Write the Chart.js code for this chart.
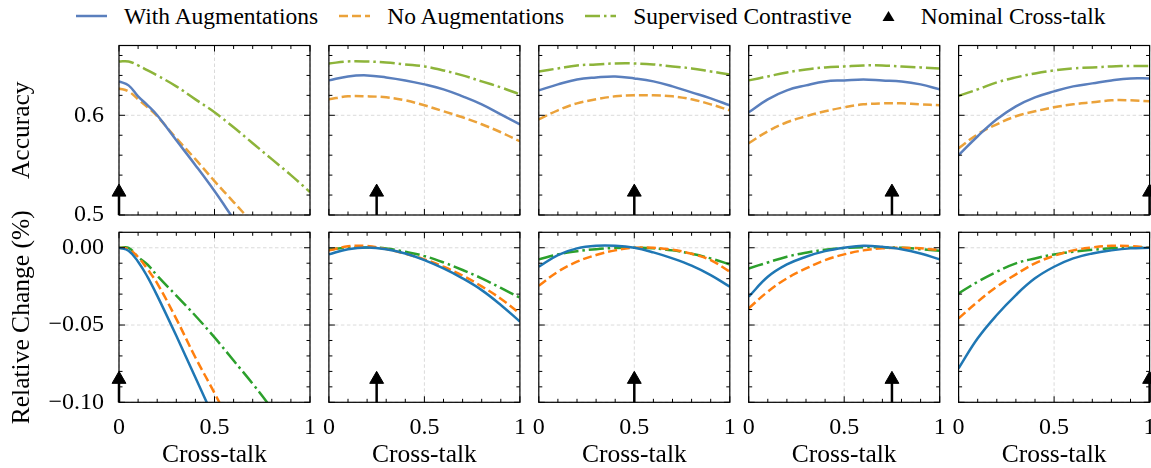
<!DOCTYPE html>
<html>
<head>
<meta charset="utf-8">
<script src="https://cdn.jsdelivr.net/npm/chart.js@4.4.1/dist/chart.umd.min.js"></script>
<style>
  body { margin: 0; width: 1151px; height: 468px; overflow: hidden; background: #fff; position: relative; font-family: "Liberation Serif", serif; }
  canvas { position: absolute; left: 0; top: 0; }
  #legend { position: absolute; left: 76px; top: 0; height: 32px; display: flex; align-items: center; font-size: 23.5px; color: #000; white-space: nowrap; }
  .item { display: flex; align-items: center; margin-right: 21px; }
  .item svg { margin-right: 17px; }
</style>
</head>
<body>
<div id="legend"></div>
<script>
// Eje x (cross-talk evaluado); la primera columna tiene puntos extra cerca de 0
const CROSS_TALK = [0, 0.1, 0.2, 0.3, 0.4, 0.5, 0.6, 0.7, 0.8, 0.9, 1];
const CROSS_TALK_COL1 = [0, 0.05, 0.1, 0.15, 0.2, 0.3, 0.4, 0.5, 0.6, 0.7, 0.8, 0.9, 1];
const NOMINAL = [0, 0.25, 0.5, 0.75, 1];

// Fila superior: accuracy (una fila por columna / nominal)
const ACC_AUG = [
  [0.634, 0.630, 0.619, 0.610, 0.600, 0.575, 0.550, 0.524, 0.496, null, null, null, null],
  [0.635, 0.639, 0.640, 0.638, 0.635, 0.631, 0.626, 0.619, 0.611, 0.601, 0.591],
  [0.625, 0.631, 0.636, 0.638, 0.639, 0.637, 0.634, 0.629, 0.623, 0.617, 0.610],
  [0.603, 0.616, 0.625, 0.630, 0.634, 0.635, 0.636, 0.635, 0.634, 0.631, 0.626],
  [0.560, 0.579, 0.596, 0.609, 0.618, 0.624, 0.629, 0.632, 0.635, 0.637, 0.637]
];
const ACC_NOAUG = [
  [0.627, 0.624, 0.616, 0.608, 0.599, 0.577, 0.556, 0.534, 0.513, 0.492, null, null, null],
  [0.616, 0.619, 0.619, 0.618, 0.615, 0.610, 0.604, 0.598, 0.591, 0.583, 0.574],
  [0.596, 0.605, 0.612, 0.616, 0.619, 0.620, 0.620, 0.619, 0.616, 0.611, 0.605],
  [0.572, 0.584, 0.593, 0.599, 0.604, 0.608, 0.611, 0.612, 0.612, 0.611, 0.610],
  [0.567, 0.581, 0.591, 0.599, 0.604, 0.608, 0.611, 0.613, 0.615, 0.615, 0.614]
];
const ACC_SUPCON = [
  [0.654, 0.654, 0.650, 0.645, 0.640, 0.629, 0.616, 0.603, 0.588, 0.572, 0.556, 0.540, 0.523],
  [0.652, 0.654, 0.654, 0.653, 0.651, 0.649, 0.645, 0.640, 0.634, 0.628, 0.621],
  [0.644, 0.647, 0.650, 0.651, 0.652, 0.652, 0.651, 0.649, 0.647, 0.644, 0.641],
  [0.635, 0.639, 0.643, 0.646, 0.648, 0.649, 0.650, 0.650, 0.649, 0.648, 0.647],
  [0.6195, 0.626, 0.633, 0.638, 0.642, 0.645, 0.647, 0.648, 0.649, 0.6495, 0.6495]
];

// Fila inferior: cambio relativo respecto al nominal
const REL_AUG = [
  [0, -0.002, -0.009, -0.019, -0.031, -0.057, -0.084, -0.111, null, null, null, null, null],
  [-0.0043, -0.0009, 0.0002, -0.0009, -0.0037, -0.008, -0.0134, -0.0198, -0.0274, -0.037, -0.0478],
  [-0.0123, -0.0047, -0.0004, 0.0013, 0.0013, 0, -0.003, -0.0069, -0.0116, -0.0177, -0.0252],
  [-0.0317, -0.0188, -0.0108, -0.0058, -0.0022, 0, 0.0013, 0.0006, -0.0009, -0.0037, -0.0075],
  [-0.078, -0.0586, -0.0435, -0.0306, -0.0198, -0.0123, -0.0069, -0.0037, -0.0017, -0.0004, 0]
];
const REL_NOAUG = [
  [0, -0.001, -0.006, -0.014, -0.023, -0.046, -0.071, -0.094, -0.118, null, null, null, null],
  [-0.0017, 0.0009, 0.0011, -0.0009, -0.0039, -0.0075, -0.0123, -0.018, -0.025, -0.033, -0.0425],
  [-0.0246, -0.0155, -0.009, -0.0047, -0.0017, 0, 0, -0.0013, -0.0039, -0.008, -0.0155],
  [-0.0392, -0.0284, -0.0198, -0.0134, -0.008, -0.0043, -0.0017, -0.0004, 0, -0.0004, -0.0015],
  [-0.0457, -0.0349, -0.0252, -0.0172, -0.0101, -0.0052, -0.0017, 0.0002, 0.0013, 0.0011, 0]
];
const REL_SUPCON = [
  [0, 0, -0.006, -0.011, -0.018, -0.031, -0.044, -0.058, -0.073, -0.088, -0.104, null, null],
  [-0.0011, 0, 0.0002, -0.0004, -0.0026, -0.0054, -0.0095, -0.0144, -0.0198, -0.026, -0.0323],
  [-0.0075, -0.0043, -0.0022, -0.0009, -0.0002, 0, -0.0004, -0.0017, -0.0039, -0.0069, -0.0108],
  [-0.0134, -0.0095, -0.0058, -0.0032, -0.0013, -0.0002, 0.0004, 0.0002, 0, -0.0009, -0.0019],
  [-0.0295, -0.022, -0.0155, -0.0101, -0.0069, -0.0043, -0.0026, -0.0013, -0.0004, 0, 0]
];

const SERIES_NAMES = ['With Augmentations', 'No Augmentations', 'Supervised Contrastive'];
const ARROW_NAME = 'Nominal Cross-talk';
const Y_TITLES = ['Accuracy', 'Relative Change (%)'];
const X_TITLE = 'Cross-talk';

// Estilos
const FONT_FAMILY = '"Liberation Serif", "Times New Roman", serif';
const TOP_COLORS = ['#5a7fbd', '#eba23a', '#8db43a'];
const BOTTOM_COLORS = ['#1f77b4', '#ff7f0e', '#2ca02c'];
const DASHES = [[], [9, 4], [15, 4, 2.5, 4]];
const CANVAS_W = 1180, CANVAS_H = 468;
const PANEL_LEFT0 = 119, PANEL_STEP = 209.9, PANEL_W = 191;
const ARROW_FRAC = 0.135;

const ROWS = [
  { data: [ACC_AUG, ACC_NOAUG, ACC_SUPCON], colors: TOP_COLORS, min: 0.5, max: 0.67, step: 0.02, major: 0.1,
    top: 45.5, height: 169.5, fmt: v => v.toFixed(1) },
  { data: [REL_AUG, REL_NOAUG, REL_SUPCON], colors: BOTTOM_COLORS, min: -0.1, max: 0.01, step: 0.01, major: 0.05,
    top: 232.3, height: 170, fmt: v => Math.abs(v) < 1e-9 ? '0.00' : v.toFixed(2).replace('-', '\u2212') }
];

const isMajor = (v, m) => Math.abs(v / m - Math.round(v / m)) < 1e-6;

Chart.defaults.font.family = FONT_FAMILY;
Chart.defaults.font.size = 24;
Chart.defaults.color = '#000';

// Marco estilo matplotlib: rejilla punteada, ticks hacia dentro en los cuatro lados
const framePlugin = {
  id: 'frame',
  beforeDatasetsDraw(chart, args, opts) {
    const { ctx, chartArea: a, scales: { x, y } } = chart;
    ctx.save();
    ctx.strokeStyle = '#d6d6d6';
    ctx.lineWidth = 0.9;
    ctx.setLineDash([3.5, 2.5]);
    ctx.beginPath();
    x.ticks.forEach(t => {
      if (!isMajor(t.value, opts.xMajor)) return;
      const px = x.getPixelForValue(t.value);
      ctx.moveTo(px, a.top); ctx.lineTo(px, a.bottom);
    });
    y.ticks.forEach(t => {
      if (!isMajor(t.value, opts.yMajor)) return;
      const py = y.getPixelForValue(t.value);
      ctx.moveTo(a.left, py); ctx.lineTo(a.right, py);
    });
    ctx.stroke();
    ctx.restore();
  },
  afterDatasetsDraw(chart, args, opts) {
    const { ctx, chartArea: a, scales: { x, y } } = chart;
    ctx.save();
    ctx.strokeStyle = '#000';
    ctx.lineWidth = 1;
    ctx.beginPath();
    x.ticks.forEach(t => {
      const px = x.getPixelForValue(t.value);
      const len = isMajor(t.value, opts.xMajor) ? 6 : 3.5;
      ctx.moveTo(px, a.bottom); ctx.lineTo(px, a.bottom - len);
      ctx.moveTo(px, a.top); ctx.lineTo(px, a.top + len);
    });
    y.ticks.forEach(t => {
      const py = y.getPixelForValue(t.value);
      const len = isMajor(t.value, opts.yMajor) ? 6 : 3.5;
      ctx.moveTo(a.left, py); ctx.lineTo(a.left + len, py);
      ctx.moveTo(a.right, py); ctx.lineTo(a.right - len, py);
    });
    ctx.stroke();
    ctx.lineWidth = 1.2;
    ctx.strokeRect(a.left, a.top, a.right - a.left, a.bottom - a.top);
    ctx.restore();
  }
};

function crearPanel(r, c) {
  const row = ROWS[r];
  const left = PANEL_LEFT0 + c * PANEL_STEP;
  const xAxisH = r === 1 ? CANVAS_H - row.top - row.height : 0;
  const xs = c === 0 ? CROSS_TALK_COL1 : CROSS_TALK;

  const canvas = document.createElement('canvas');
  canvas.width = CANVAS_W;
  canvas.height = CANVAS_H;
  document.body.appendChild(canvas);

  const datasets = row.data.map((serie, s) => ({
    label: SERIES_NAMES[s],
    data: xs.map((x, i) => ({ x: x, y: serie[c][i] })),
    borderColor: row.colors[s],
    borderWidth: 2.5,
    borderDash: DASHES[s],
    pointRadius: 0,
    tension: 0.4,
    fill: false
  }));

  // Flecha del cross-talk nominal
  datasets.push({
    label: ARROW_NAME,
    data: [
      { x: NOMINAL[c], y: row.min },
      { x: NOMINAL[c], y: row.min + ARROW_FRAC * (row.max - row.min) }
    ],
    borderColor: '#000',
    borderWidth: 2.5,
    pointRadius: [0, 8],
    pointStyle: 'triangle',
    pointBackgroundColor: '#000',
    pointBorderColor: '#000',
    pointBorderWidth: 1,
    clip: false
  });

  new Chart(canvas, {
    type: 'line',
    data: { datasets: datasets },
    options: {
      responsive: false,
      animation: false,
      events: [],
      layout: {
        padding: {
          left: c === 0 ? 0 : left,
          right: CANVAS_W - left - PANEL_W,
          top: row.top,
          bottom: CANVAS_H - row.top - row.height - xAxisH
        }
      },
      plugins: {
        legend: { display: false },
        tooltip: { enabled: false },
        frame: { xMajor: 0.5, yMajor: row.major }
      },
      scales: {
        x: {
          type: 'linear', min: 0, max: 1,
          grid: { display: false, drawTicks: false },
          border: { display: false },
          ticks: {
            display: r === 1, stepSize: 0.1, autoSkip: false, maxRotation: 0, padding: 11,
            font: { family: FONT_FAMILY, size: 24 },
            callback: v => isMajor(v, 0.5) ? String(v) : ''
          },
          title: { display: r === 1, text: X_TITLE, padding: 0, font: { family: FONT_FAMILY, size: 25.5, lineHeight: 1 } },
          afterFit: s => { s.height = xAxisH; }
        },
        y: {
          type: 'linear', min: row.min, max: row.max,
          grid: { display: false, drawTicks: false },
          border: { display: false },
          ticks: {
            display: c === 0, stepSize: row.step, includeBounds: false, autoSkip: false, padding: 15,
            font: { family: FONT_FAMILY, size: 24 },
            callback: v => isMajor(v, row.major) ? row.fmt(v) : ''
          },
          title: { display: c === 0, text: Y_TITLES[r], padding: { top: 10, bottom: 0 }, font: { family: FONT_FAMILY, size: 25.5, lineHeight: 1 } },
          afterFit: s => { s.width = c === 0 ? left : 0; }
        }
      }
    },
    plugins: [framePlugin]
  });
}

// Leyenda superior
function crearLeyenda() {
  const cont = document.getElementById('legend');
  SERIES_NAMES.forEach((name, s) => {
    const item = document.createElement('div');
    item.className = 'item';
    item.innerHTML = '<svg width="31" height="10"><line x1="0" y1="5" x2="31" y2="5" stroke="' + TOP_COLORS[s] +
      '" stroke-width="2.5" stroke-dasharray="' + (DASHES[s].length ? DASHES[s].join(' ') : 'none') + '"/></svg>';
    const span = document.createElement('span');
    span.textContent = name;
    item.appendChild(span);
    cont.appendChild(item);
  });
  const item = document.createElement('div');
  item.className = 'item';
  item.innerHTML = '<svg width="31" height="12"><polygon points="9.5,11 21.5,11 15.5,1" fill="#000"/></svg>';
  const span = document.createElement('span');
  span.textContent = ARROW_NAME;
  item.appendChild(span);
  cont.appendChild(item);
}

crearLeyenda();
for (let r = 0; r < 2; r++) {
  for (let c = 0; c < 5; c++) crearPanel(r, c);
}
</script>
</body>
</html>
